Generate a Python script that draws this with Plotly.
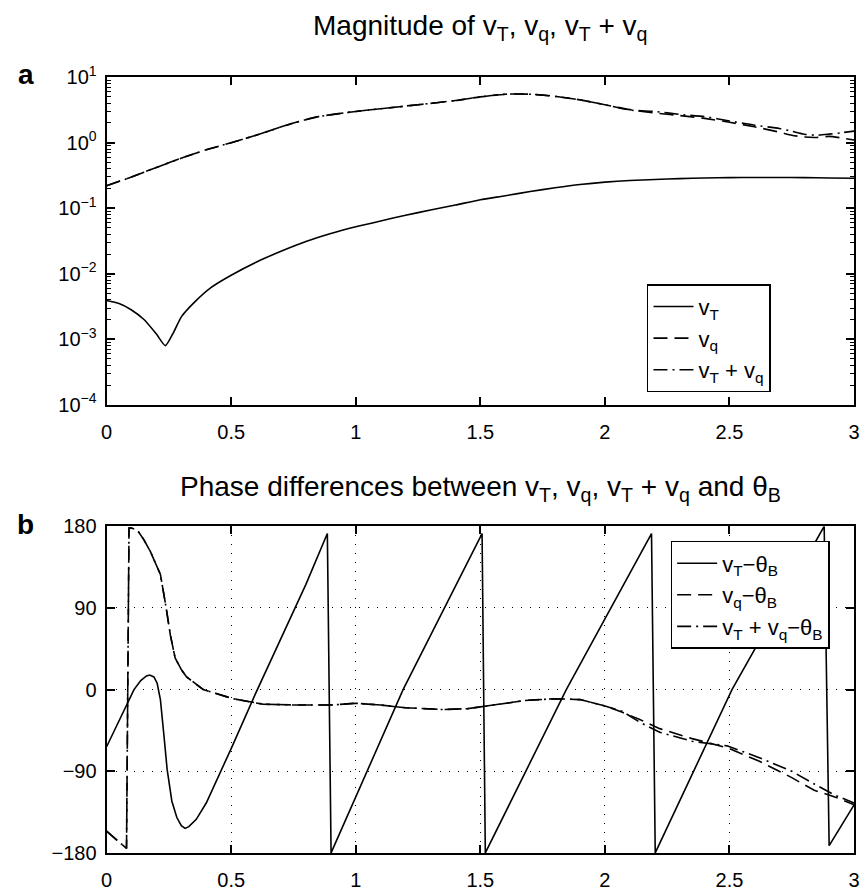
import plotly.graph_objects as go

# ---- panel a: magnitudes (log scale) ----
x_vT = [0, 0.05, 0.1, 0.15, 0.2, 0.236, 0.27, 0.3, 0.35, 0.42, 0.5, 0.6, 0.7, 0.8, 0.9,
        1.0, 1.1, 1.2, 1.3, 1.4, 1.5, 1.6, 1.7, 1.8, 1.9, 2.0, 2.1, 2.2, 2.3, 2.4, 2.5,
        2.6, 2.7, 2.8, 2.9, 3.0]
mag_vT = [0.0039, 0.0035, 0.0028, 0.002, 0.0012, 0.0008, 0.0013, 0.0022, 0.0036, 0.0062,
          0.0095, 0.015, 0.022, 0.031, 0.041, 0.052, 0.064, 0.078, 0.094, 0.112, 0.135,
          0.155, 0.18, 0.205, 0.23, 0.25, 0.265, 0.275, 0.283, 0.29, 0.293, 0.295, 0.295,
          0.293, 0.29, 0.287]

x_vq = [0, 0.1, 0.2, 0.31, 0.4, 0.5, 0.6, 0.75, 0.85, 1.0, 1.1, 1.25, 1.4, 1.5, 1.6, 1.7,
        1.8, 1.9, 2.0, 2.1, 2.2, 2.3, 2.4, 2.5, 2.6, 2.7, 2.75, 2.8, 2.85, 2.9, 2.95, 3.0]
mag_vq = [0.22, 0.3, 0.42, 0.6, 0.78, 1.0, 1.3, 2.0, 2.5, 3.0, 3.3, 3.8, 4.4, 5.0, 5.5, 5.5,
          5.1, 4.5, 3.8, 3.2, 2.85, 2.6, 2.35, 2.05, 1.75, 1.45, 1.3, 1.22, 1.2, 1.25, 1.18, 1.1]
mag_vTq = [0.22, 0.3, 0.42, 0.6, 0.78, 1.0, 1.3, 2.0, 2.5, 3.0, 3.3, 3.8, 4.4, 5.0, 5.5, 5.5,
           5.1, 4.5, 3.8, 3.15, 3.0, 2.7, 2.5, 2.15, 1.85, 1.65, 1.5, 1.35, 1.3, 1.35, 1.42, 1.5]

# ---- panel b: phase differences (degrees) ----
x_ph_vT = [0, 0.05, 0.08, 0.11, 0.137, 0.16, 0.173, 0.19, 0.203, 0.216, 0.23, 0.243, 0.262,
           0.282, 0.3, 0.315, 0.33, 0.36, 0.4, 0.5, 0.6, 0.7, 0.8, 0.886, 0.901, 1.19,
           1.507, 1.52, 1.845, 2.187, 2.202, 2.51, 2.88, 2.9, 3.0]
ph_vT = [-63, -35, -17, 0, 10, 15, 16, 14, 7, -11, -50, -88, -123,
         -141, -150, -153, -151, -143, -125, -65, -3, 57, 116, 172, -180, 0,
         172, -180, 0, 172, -180, 0, 180, -172, -127]

x_ph_vq = [0, 0.04, 0.08, 0.09, 0.1, 0.123, 0.15, 0.176, 0.2, 0.216, 0.238, 0.256, 0.275,
           0.3, 0.321, 0.388, 0.507, 0.626, 0.758, 0.9, 1.0, 1.1, 1.2, 1.35, 1.45, 1.55,
           1.68, 1.8, 1.9, 2.0, 2.07, 2.14, 2.22, 2.35, 2.49, 2.62, 2.75, 2.84, 2.92, 3.0]
ph_vq = [-156, -165, -175, 178, 178, 176, 165, 152, 138, 127, 92, 60, 35,
         22, 14, 0, -10, -16, -17, -17, -15, -17, -20, -22, -21, -17,
         -12, -10, -11, -18, -25, -33, -43, -54, -64, -79, -97, -111, -118, -127]
ph_vTq = [-156, -165, -175, 178, 178, 176, 165, 152, 138, 127, 92, 60, 35,
          22, 14, 0, -10, -16, -17, -17, -15, -17, -20, -22, -21, -17,
          -12, -10, -11, -18, -24, -36, -47, -57, -62, -75, -90, -104, -116, -125]

x_ticks = [0, 0.5, 1, 1.5, 2, 2.5, 3]
x_ticklabels = ["0", "0.5", "1", "1.5", "2", "2.5", "3"]
mag_tickvals = [1e1, 1e0, 1e-1, 1e-2, 1e-3, 1e-4]
mag_ticklabels = ["10<sup>1</sup>", "10<sup>0</sup>", "10<sup>−1</sup>", "10<sup>−2</sup>",
                  "10<sup>−3</sup>", "10<sup>−4</sup>"]
ph_tickvals = [180, 90, 0, -90, -180]
ph_ticklabels = ["180", "90", "0", "−90", "−180"]

FONT = "Liberation Sans, Arial, Helvetica, sans-serif"
W, H = 865, 896
LEFT, RIGHT = 102, 860


def px_x(p):
    return p / W


def px_y(p):
    return 1 - p / H


SOLID = dict(color="black", width=1.6, dash="solid")
DASH = dict(color="black", width=1.6, dash="14px,7px")
DASHDOT = dict(color="black", width=1.6, dash="14px,5px,2px,5px")

fig = go.Figure()

fig.add_trace(go.Scatter(x=x_vT, y=mag_vT, mode="lines",
                         line=dict(SOLID, shape="spline", smoothing=0.6),
                         name="v<sub>T</sub>", legend="legend", xaxis="x", yaxis="y"))
fig.add_trace(go.Scatter(x=x_vq, y=mag_vq, mode="lines",
                         line=dict(DASH, shape="spline", smoothing=0.6),
                         name="v<sub>q</sub>", legend="legend", xaxis="x", yaxis="y"))
fig.add_trace(go.Scatter(x=x_vq, y=mag_vTq, mode="lines",
                         line=dict(DASHDOT, shape="spline", smoothing=0.6),
                         name="v<sub>T</sub> + v<sub>q</sub>", legend="legend",
                         xaxis="x", yaxis="y"))

fig.add_trace(go.Scatter(x=x_ph_vT, y=ph_vT, mode="lines", line=SOLID,
                         name="v<sub>T</sub>−θ<sub>B</sub>", legend="legend2",
                         xaxis="x2", yaxis="y2"))
fig.add_trace(go.Scatter(x=x_ph_vq, y=ph_vq, mode="lines", line=DASH,
                         name="v<sub>q</sub>−θ<sub>B</sub>", legend="legend2",
                         xaxis="x2", yaxis="y2"))
fig.add_trace(go.Scatter(x=x_ph_vq, y=ph_vTq, mode="lines", line=DASHDOT,
                         name="v<sub>T</sub> + v<sub>q</sub>−θ<sub>B</sub>", legend="legend2",
                         xaxis="x2", yaxis="y2"))

axis_common = dict(showline=True, linecolor="black", linewidth=2, mirror="ticks",
                   ticks="inside", ticklen=8, tickwidth=1.5, tickcolor="black",
                   zeroline=False, ticklabeloverflow="allow",
                   tickfont=dict(family=FONT, size=20, color="black"))

xdom = [px_x(LEFT), px_x(RIGHT)]

legend_style = dict(xanchor="left", yanchor="top", bgcolor="white",
                    bordercolor="black", borderwidth=1.5,
                    font=dict(family=FONT, size=22, color="black"),
                    itemwidth=40, tracegroupgap=0)

fig.update_layout(
    width=W, height=H,
    margin=dict(l=0, r=0, t=0, b=0),
    paper_bgcolor="white", plot_bgcolor="white",
    font=dict(family=FONT, color="black"),
    xaxis=dict(domain=xdom, range=[0, 3], anchor="y", tickvals=x_ticks,
               ticktext=x_ticklabels, showgrid=False, ticklabelstandoff=8, **axis_common),
    yaxis=dict(domain=[px_y(402), px_y(65)], type="log", range=[-4, 1], anchor="x",
               tickvals=mag_tickvals, ticktext=mag_ticklabels, showgrid=False,
               ticklabelstandoff=4,
               minor=dict(ticks="inside", ticklen=4, tickwidth=1, tickcolor="black",
                          dtick="D1", showgrid=False),
               **axis_common),
    xaxis2=dict(domain=xdom, range=[0, 3], anchor="y2", tickvals=x_ticks,
                ticktext=x_ticklabels, showgrid=True, gridcolor="black", gridwidth=1,
                griddash="1px,8px", ticklabelstandoff=8, **axis_common),
    yaxis2=dict(domain=[px_y(863), px_y(527)], range=[-180, 180], anchor="x2",
                tickvals=ph_tickvals, ticktext=ph_ticklabels, showgrid=True,
                gridcolor="black", gridwidth=1, griddash="1px,8px",
                ticklabelstandoff=4, **axis_common),
    legend=dict(x=px_x(650), y=px_y(278), **legend_style),
    legend2=dict(x=px_x(674), y=px_y(542), **legend_style),
    showlegend=True,
)

fig.add_annotation(text="Magnitude of v<sub>T</sub>, v<sub>q</sub>, v<sub>T</sub> + v<sub>q</sub>",
                   xref="paper", yref="paper", x=px_x(481), y=px_y(14),
                   xanchor="center", yanchor="middle", showarrow=False,
                   font=dict(family=FONT, size=28, color="black"))
fig.add_annotation(text="Phase differences between v<sub>T</sub>, v<sub>q</sub>, v<sub>T</sub> + v<sub>q</sub> and θ<sub>B</sub>",
                   xref="paper", yref="paper", x=px_x(481), y=px_y(488),
                   xanchor="center", yanchor="middle", showarrow=False,
                   font=dict(family=FONT, size=28, color="black"))
fig.add_annotation(text="<b>a</b>", xref="paper", yref="paper", x=px_x(20), y=px_y(62),
                   xanchor="center", yanchor="middle", showarrow=False,
                   font=dict(family=FONT, size=28, color="black"))
fig.add_annotation(text="<b>b</b>", xref="paper", yref="paper", x=px_x(20), y=px_y(525),
                   xanchor="center", yanchor="middle", showarrow=False,
                   font=dict(family=FONT, size=28, color="black"))

fig.write_html("out.html")
